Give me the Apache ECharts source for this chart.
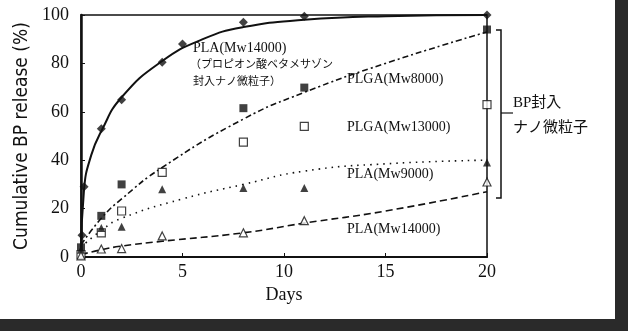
<!DOCTYPE html>
<html>
<head>
    <meta charset="UTF-8">
    <script src="https://cdn.jsdelivr.net/npm/echarts@6/dist/echarts.min.js"></script>
    <style>
        html, body { margin: 0; padding: 0; background: #fff; }
        #main { width: 628px; height: 331px; }
    </style>
</head>
<body>
<div id="main"></div>
<script>
    // 測定点 [日, 放出率%]
    var bpPla14000 = [[0.05, 9], [0.15, 29], [1, 53], [2, 65], [4, 80.5], [5, 88], [8, 97], [11, 99.5], [20, 100]];
    var plga8000 = [[0, 4], [1, 17], [2, 30], [8, 61.5], [11, 70], [20, 94]];
    var plga13000 = [[0, 1], [1, 10], [2, 19], [4, 35], [8, 47.5], [11, 54], [20, 63]];
    var pla9000 = [[0, 3], [1, 12], [2, 12.5], [4, 28], [8, 28.5], [11, 28.5], [20, 39]];
    var pla14000 = [[0, 0.5], [1, 3.3], [2, 3.5], [4, 8.7], [8, 10], [11, 15], [20, 31]];

    // 近似曲線
    var fitBp = [[0, 0], [0.15, 28], [0.5, 42], [1, 52], [2, 66], [4, 81], [6, 90], [8, 95], [11, 98], [15, 99.5], [20, 100]];
    var fitPlga8000 = [[0, 5], [1, 16], [2, 24], [4, 37], [8, 57], [11, 68], [15, 80], [20, 93]];
    var fitPla9000 = [[0, 4], [1, 11], [2, 16], [5, 24], [8, 30], [11, 35.5], [15, 38.5], [20, 40]];
    var fitPla14000 = [[0, 1], [1, 3], [2, 4.5], [4, 6.5], [8, 10], [11, 14], [15, 19], [20, 27]];

    var xTicks = [0, 5, 10, 15, 20];
    var yTicks = [0, 20, 40, 60, 80, 100];

    var serif = 'Liberation Serif, "Noto Sans CJK JP"';
    var myChart = echarts.init(document.getElementById('main'));

    function fitLine(data, dash) {
        return {
            type: 'line', data: data, smooth: 0.5, showSymbol: false, silent: true,
            lineStyle: { color: '#111', width: dash ? 1.6 : 2, type: dash || 'solid' },
            z: 2
        };
    }
    function points(data, symbol, filled) {
        return {
            type: 'scatter', data: data, symbol: symbol, symbolSize: symbol === 'diamond' ? 9 : 8,
            itemStyle: filled ? { color: '#111' } : { color: '#fff', borderColor: '#111', borderWidth: 1.2 },
            z: 5
        };
    }

    var option = {
        animation: false,
        backgroundColor: '#fff',
        grid: { left: 81, right: 141, top: 15, bottom: 74, show: true, borderColor: '#111', borderWidth: 1.5 },
        xAxis: {
            type: 'value', min: 0, max: 20, interval: 5,
            name: 'Days', nameLocation: 'middle', nameGap: 28,
            nameTextStyle: { fontFamily: serif, fontSize: 18, color: '#111' },
            axisLine: { lineStyle: { color: '#111', width: 2 } },
            axisTick: { inside: true, length: 4, lineStyle: { color: '#111' } },
            axisLabel: {
                fontFamily: serif, fontSize: 18, color: '#111', margin: 6,
                formatter: function (v) { return xTicks.indexOf(v) >= 0 ? String(v) : ''; }
            },
            splitLine: { show: false }
        },
        yAxis: {
            type: 'value', min: 0, max: 100, interval: 20,
            name: 'Cumulative BP release (%)', nameLocation: 'middle', nameGap: 37,
            nameTextStyle: { fontFamily: 'Liberation Sans Narrow, DejaVu Sans Condensed, sans-serif', fontSize: 19, color: '#111' },
            axisLine: { lineStyle: { color: '#111', width: 2.5 } },
            axisTick: { inside: true, length: 4, lineStyle: { color: '#111' } },
            axisLabel: {
                fontFamily: serif, fontSize: 18, color: '#111', margin: 12,
                formatter: function (v) { return yTicks.indexOf(v) >= 0 ? String(v) : ''; }
            },
            splitLine: { show: false }
        },
        series: [
            fitLine(fitBp),
            fitLine(fitPlga8000, [6, 3, 2, 3]),
            fitLine(fitPla9000, [1.5, 5]),
            fitLine(fitPla14000, [7, 4]),
            points(bpPla14000, 'diamond', true),
            points(plga8000, 'rect', true),
            points(plga13000, 'rect', false),
            points(pla9000, 'triangle', true),
            points(pla14000, 'triangle', false)
        ],
        graphic: [
            // 注記
            { type: 'text', left: 193, top: 41, style: { text: 'PLA(Mw14000)', font: '14px ' + serif, fill: '#111' } },
            { type: 'text', left: 190, top: 58, style: { text: '（プロピオン酸ベタメサゾン', font: '11px "Noto Sans CJK JP"', fill: '#111' } },
            { type: 'text', left: 193, top: 75, style: { text: '封入ナノ微粒子）', font: '11px "Noto Sans CJK JP"', fill: '#111' } },
            { type: 'text', left: 347, top: 72, style: { text: 'PLGA(Mw8000)', font: '14px ' + serif, fill: '#111' } },
            { type: 'text', left: 347, top: 120, style: { text: 'PLGA(Mw13000)', font: '14px ' + serif, fill: '#111' } },
            { type: 'text', left: 347, top: 167, style: { text: 'PLA(Mw9000)', font: '14px ' + serif, fill: '#111' } },
            { type: 'text', left: 347, top: 222, style: { text: 'PLA(Mw14000)', font: '14px ' + serif, fill: '#111' } },
            // 括弧
            { type: 'polyline', shape: { points: [[496, 30], [501, 30], [501, 198], [496, 198]] }, style: { stroke: '#111', lineWidth: 1.5, fill: null } },
            { type: 'line', shape: { x1: 501, y1: 113, x2: 513, y2: 113 }, style: { stroke: '#111', lineWidth: 1.2 } },
            { type: 'text', left: 513, top: 96, style: { text: 'BP封入', font: '15px ' + serif, fill: '#111' } },
            { type: 'text', left: 513, top: 119, style: { text: 'ナノ微粒子', font: '15px "Noto Sans CJK JP"', fill: '#111' } },
            // スキャンの縁
            { type: 'rect', shape: { x: 615, y: 0, width: 13, height: 331 }, style: { fill: '#2a2a2a' } },
            { type: 'rect', shape: { x: 0, y: 319, width: 628, height: 12 }, style: { fill: '#2a2a2a' } }
        ]
    };

    myChart.setOption(option);
</script>
</body>
</html>
